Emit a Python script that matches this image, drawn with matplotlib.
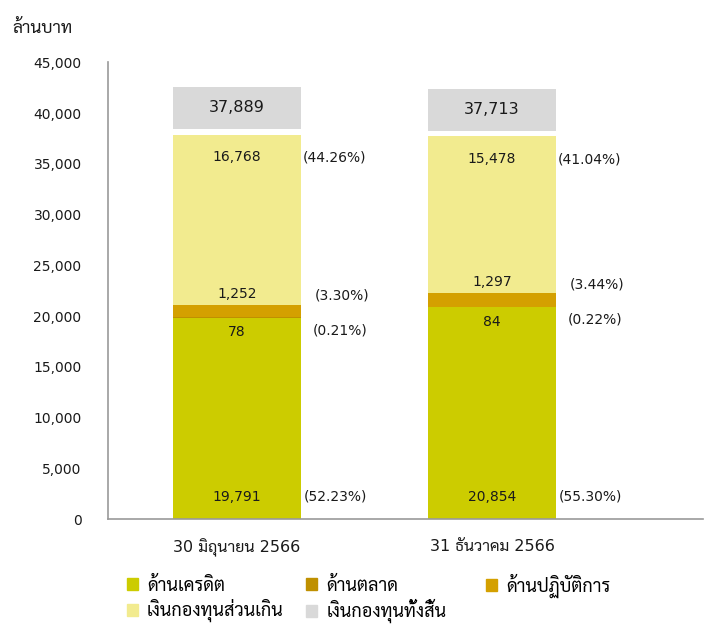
import matplotlib
matplotlib.use("Agg")
import matplotlib.pyplot as plt
from matplotlib.patches import Patch

plt.rcParams['font.family'] = ['DejaVu Sans', 'Sarabun']

# data (ล้านบาท)
periods = ["30 มิถุนายน 2566", "31 ธันวาคม 2566"]
credit = [19791, 20854]
market = [78, 84]
operational = [1252, 1297]
excess = [16768, 15478]
totals = [37889, 37713]
pct_credit = ["(52.23%)", "(55.30%)"]
pct_market = ["(0.21%)", "(0.22%)"]
pct_operational = ["(3.30%)", "(3.44%)"]
pct_excess = ["(44.26%)", "(41.04%)"]

c_credit = "#CCCC00"
c_market = "#BF9000"
c_oper = "#D4A000"
c_excess = "#F2EB8F"
c_total = "#D9D9D9"

fig = plt.figure(figsize=(7.05, 6.24), dpi=100)
ax = fig.add_axes([0.1532, 0.168, 0.844, 0.732])

x = list(range(len(periods)))
w = 0.5
b1 = [c + m for c, m in zip(credit, market)]
b2 = [a + o for a, o in zip(b1, operational)]

ax.bar(x, credit, w, color=c_credit)
ax.bar(x, market, w, bottom=credit, color=c_market)
ax.bar(x, operational, w, bottom=b1, color=c_oper)
ax.bar(x, excess, w, bottom=b2, color=c_excess)
# grey box holding the total, sits just above each bar
ax.bar(x, 4150, w, bottom=[t + 550 for t in totals], color=c_total)

fs = 10
tc = "#1a1a1a"
for i in x:
    ax.text(i, 2200, f"{credit[i]:,}", ha="center", va="center", fontsize=fs, color=tc)
    ax.text(i, credit[i] - 1400, f"{market[i]:,}", ha="center", va="center", fontsize=fs, color=tc)
    ax.text(i, b2[i] + 1100, f"{operational[i]:,}", ha="center", va="center", fontsize=fs, color=tc)
    ax.text(i, totals[i] - 2250, f"{excess[i]:,}", ha="center", va="center", fontsize=fs, color=tc)
    ax.text(i, totals[i] + 550 + 2075, f"{totals[i]:,}", ha="center", va="center",
            fontsize=fs + 1.5, color=tc)

    xr = i + w / 2
    ax.text(xr + 0.012, 2200, pct_credit[i], ha="left", va="center", fontsize=fs, color=tc)
    ax.text(xr + 0.045, credit[i] - 1200, pct_market[i], ha="left", va="center", fontsize=fs, color=tc)
    ax.text(xr + 0.055, b2[i] + 900, pct_operational[i], ha="left", va="center", fontsize=fs, color=tc)
    ax.text(xr + 0.008, totals[i] - 2250, pct_excess[i], ha="left", va="center", fontsize=fs, color=tc)

ax.set_xlim(-0.506, 1.827)
ax.set_ylim(0, 45000)
ax.set_yticks(range(0, 45001, 5000))
ax.set_yticklabels([f"{v:,}" for v in range(0, 45001, 5000)])
ax.set_xticks(x)
ax.set_xticklabels(periods, fontsize=fs + 1.5)
ax.tick_params(axis="both", length=0, colors=tc)
ax.tick_params(axis="y", pad=19, labelsize=fs)
ax.tick_params(axis="x", pad=14)
for s in ["top", "right"]:
    ax.spines[s].set_visible(False)
for s in ["left", "bottom"]:
    ax.spines[s].set_color("#999999")
    ax.spines[s].set_linewidth(1.2)

fig.text(0.017, 0.955, "ล้านบาท", fontsize=12.5, color=tc, va="center")

# legend laid out as three columns, each placed on its own
columns = [
    ([Patch(color=c_credit, label="ด้านเครดิต"),
      Patch(color=c_excess, label="เงินกองทุนส่วนเกิน")], 0.180, 0.076),
    ([Patch(color=c_market, label="ด้านตลาด"),
      Patch(color=c_total, label="เงินกองทุนทั้งสิ้น")], 0.434, 0.076),
    ([Patch(color=c_oper, label="ด้านปฏิบัติการ")], 0.689, 0.081),
]
for hs, lx, ly in columns:
    fig.legend(handles=hs, loc="upper left", bbox_to_anchor=(lx, ly),
               frameon=False, fontsize=13, handlelength=0.62, handleheight=0.62,
               handletextpad=0.5, labelspacing=0.25, borderaxespad=0,
               borderpad=0, bbox_transform=fig.transFigure)

fig.savefig("out.png", dpi=100)
